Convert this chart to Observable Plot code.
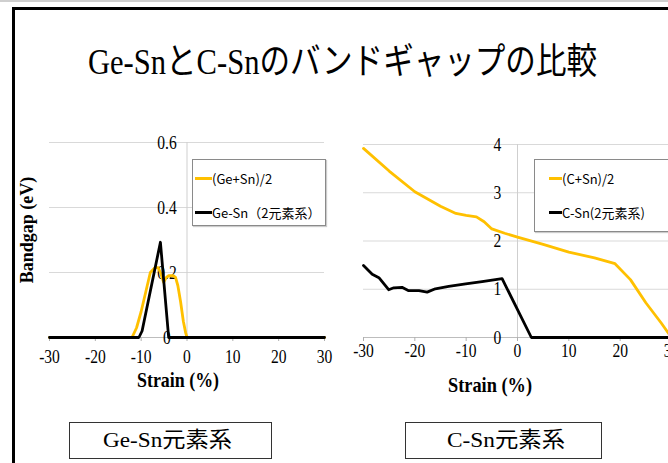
<!DOCTYPE html>
<html><head><meta charset="utf-8">
<script src="https://cdn.jsdelivr.net/npm/d3@7"></script>
<script src="https://cdn.jsdelivr.net/npm/@observablehq/plot@0.6"></script>
<style>
html,body{margin:0;padding:0;background:#fff;}
#stage{position:relative;width:668px;height:463px;overflow:hidden;background:#fff;font-family:"Liberation Serif","Noto Sans CJK JP",serif;color:#000;}
.abs{position:absolute;white-space:nowrap;}
.fit{transform-origin:left center;line-height:1;}
.legend{position:absolute;background:#fff;border:1px solid #8a8a8a;box-shadow:1px 1px 1px #ccc;font-family:"Noto Sans CJK JP","Noto Sans",sans-serif;font-size:13px;}
.legend .row{position:absolute;left:0;display:flex;align-items:center;white-space:nowrap;}
.legend .sw{display:inline-block;width:17px;height:2.5px;margin-left:2px;}
.box{position:absolute;border:1.5px solid #333;box-sizing:border-box;}
</style></head><body>
<div id="stage">
  <div class="abs" style="left:0;top:0;width:668px;height:2px;background:#cfcfcf;"></div>
  <div class="abs" id="title" style="left:88px;top:32px;font-size:36px;" >Ge-SnとC-Snのバンドギャップの比較</div>
  <div id="plots"></div>
  <div class="abs" id="ylab" style="left:27px;top:230px;font-size:18px;font-weight:bold;transform:translate(-50%,-50%) rotate(-90deg);">Bandgap (eV)</div>
  <div class="abs fit" id="xlab1" style="left:137px;top:369px;font-size:22px;font-weight:bold;">Strain (%)</div>
  <div class="abs fit" id="xlab2" style="left:448px;top:374px;font-size:22px;font-weight:bold;">Strain (%)</div>
  <div class="legend" style="left:192px;top:159px;width:132px;height:65px;">
    <div class="row" style="top:9px;"><span class="sw" style="background:#ffc000"></span><span>(Ge+Sn)/2</span></div>
    <div class="row" style="top:43px;"><span class="sw" style="background:#000"></span><span>Ge-Sn（2元素系）</span></div>
  </div>
  <div class="legend" style="left:534px;top:159px;width:150px;height:71px;">
    <div class="row" style="top:9px;"><span class="sw" style="background:#ffc000;margin-left:14px;width:13px"></span><span>(C+Sn)/2</span></div>
    <div class="row" style="top:43px;"><span class="sw" style="background:#000;margin-left:14px;width:13px"></span><span>C-Sn(2元素系)</span></div>
  </div>
  <div class="box" style="left:69px;top:422px;width:203px;height:37px;"></div>
  <div class="abs fit" id="box1" style="left:103px;top:429px;font-size:22px;">Ge-Sn元素系</div>
  <div class="box" style="left:405px;top:422px;width:197px;height:37px;"></div>
  <div class="abs fit" id="box2" style="left:447px;top:429px;font-size:22px;">C-Sn元素系</div>
  <div class="abs" style="left:12px;top:7px;width:700px;height:3px;background:#000;"></div>
  <div class="abs" style="left:12px;top:7px;width:3px;height:470px;background:#000;"></div>
</div>
<script>
// ---- data ----
const xTicks = [-30, -20, -10, 0, 10, 20, 30];
const geYTicks = [0, 0.2, 0.4, 0.6];
const geYTickLabels = ["0", "0.2", "0.4", "0.6"];
const cYTicks = [0, 1, 2, 3, 4];
const cYTickLabels = ["0", "1", "2", "3", "4"];

// Ge-Sn panel: (Ge+Sn)/2
const geAvgStrain = [-30, -12, -11, -10, -9, -8, -7, -6.3, -5.8, -5.1, -4.5, -4, -3, -2.5, -2, -1.4, -0.8, -0.3, 0, 30];
const geAvgGap    = [0, 0, 0.03, 0.08, 0.14, 0.2, 0.215, 0.215, 0.2, 0.17, 0.185, 0.19, 0.19, 0.185, 0.16, 0.11, 0.05, 0.015, 0, 0];
// Ge-Sn binary
const geBinStrain = [-30, -10.5, -9.8, -5.8, -4, 30];
const geBinGap    = [0, 0, 0.02, 0.293, 0, 0];

// C-Sn panel: (C+Sn)/2
const cAvgStrain = [-30, -25, -20, -15, -12, -10, -8, -6.5, -5, -2.5, 0, 5, 10, 15, 19, 22, 25, 28, 30];
const cAvgGap    = [3.92, 3.45, 3.02, 2.72, 2.57, 2.53, 2.5, 2.4, 2.25, 2.16, 2.08, 1.93, 1.77, 1.65, 1.53, 1.2, 0.72, 0.3, 0];
// C-Sn binary
const cBinStrain = [-30, -28.3, -27, -25.1, -24.1, -22.5, -21.2, -19.2, -17.6, -16, -13.4, -10.1, -6.9, -3, 2.7, 30];
const cBinGap    = [1.49, 1.31, 1.24, 0.99, 1.03, 1.04, 0.97, 0.97, 0.94, 1.01, 1.06, 1.11, 1.16, 1.22, 0, 0];

const ORANGE = "#ffc000";
const pts = (xs, ys) => xs.map((x, i) => ({x, y: ys[i]}));

function panel({yDomain, yTicks, yLabels, avg, bin, left, width, mL, mR, mT, mB, tickPad}) {
  const svg = Plot.plot({
    width, height: 280,
    marginLeft: mL, marginRight: mR, marginTop: mT, marginBottom: mB,
    style: {background: "transparent", fontFamily: "Liberation Serif, serif", overflow: "visible"},
    x: {domain: [-30, 30]},
    y: {domain: yDomain},
    marks: [
      Plot.ruleY(yTicks.filter(d => d !== 0), {stroke: "#d9d9d9", strokeWidth: 1}),
      Plot.ruleX([0], {stroke: "#cfcfcf", strokeWidth: 1}),
      Plot.ruleY([0], {stroke: "#bdbdbd", strokeWidth: 1}),
      Plot.axisX({ticks: xTicks, tickSize: 4, tickPadding: tickPad, stroke: "#b0b0b0", fill: "#000", fontSize: 19, label: null, tickFormat: d => String(d)}),
      Plot.axisY({ticks: [], label: null}),
      Plot.text(yTicks, {x: 0, y: d => d, text: (d, i) => yLabels[i], dx: -20, textAnchor: "middle", fontSize: 19, fill: "#000"}),
      Plot.line(avg, {x: "x", y: "y", stroke: ORANGE, strokeWidth: 2.8}),
      Plot.line(bin, {x: "x", y: "y", stroke: "#000", strokeWidth: 2.8})
    ]
  });
  svg.style.position = "absolute";
  svg.style.left = left + "px";
  svg.style.top = "120px";
  svg.style.maxWidth = "none";
  // horizontally condense the serif labels like the slide
  svg.querySelectorAll("text").forEach(t => {
    const tr = t.getAttribute("transform");
    if (tr && tr.includes("translate")) {
      t.setAttribute("transform", tr + " scale(0.82,1)");
    } else if (t.hasAttribute("x")) {
      const x = t.getAttribute("x"), y = t.getAttribute("y") || 0;
      t.removeAttribute("x"); t.removeAttribute("y");
      t.setAttribute("transform", `translate(${x},${y}) scale(0.82,1)`);
    }
  });
  return svg;
}

const plots = document.getElementById("plots");
plots.appendChild(panel({
  yDomain: [0, 0.6], yTicks: geYTicks, yLabels: geYTickLabels,
  avg: pts(geAvgStrain, geAvgGap), bin: pts(geBinStrain, geBinGap),
  left: 0, width: 340, mL: 49, mR: 16, mT: 22, mB: 63, tickPad: 8
}));
plots.appendChild(panel({
  yDomain: [0, 4], yTicks: cYTicks, yLabels: cYTickLabels,
  avg: pts(cAvgStrain, cAvgGap), bin: pts(cBinStrain, cBinGap),
  left: 340, width: 340, mL: 23, mR: 9, mT: 24, mB: 63, tickPad: 2
}));

function fit(id, w) {
  const el = document.getElementById(id);
  const r = el.getBoundingClientRect().width;
  el.style.transform = `scaleX(${w / r})`;
  el.style.transformOrigin = "left center";
}
fit("title", 509);
fit("xlab1", 82);
fit("xlab2", 84);
fit("box1", 129);
fit("box2", 118);
</script>
</body></html>
